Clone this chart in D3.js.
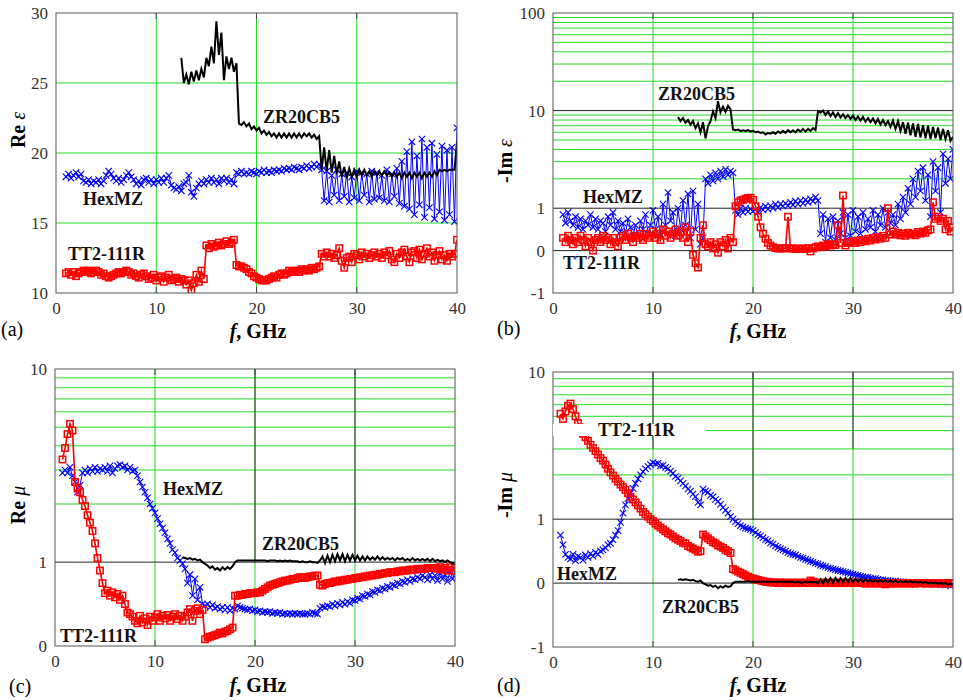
<!DOCTYPE html>
<html>
<head>
<meta charset="utf-8">
<script src="https://cdnjs.cloudflare.com/ajax/libs/d3/7.8.5/d3.min.js"></script>
<style>
    body { margin: 0; background: #fff; }
    svg { display: block; }
</style>
</head>
<body>
<div id="viz"></div>
<script>

// Frequencies are sampled every 0.25 GHz, each series has its own start frequency
const fStep = 0.25;
const xTicks = [0, 10, 20, 30, 40];

// (a) Re eps
const reEpsTT = [
    11.4, 11.5, 11.3, 11.5,
    11.2, 11.4, 11.5, 11.6,
    11.5, 11.6, 11.4, 11.5,
    11.6, 11.5, 11.3, 11.4,
    11.2, 11.1, 11.2, 11.3,
    11.4, 11.5, 11.4, 11.5,
    11.6, 11.5, 11.3, 11.4,
    11.2, 11.1, 11.3, 11.4,
    11.2, 11.0, 11.1, 11.3,
    10.9, 11.1, 11.2, 10.8,
    11.1, 11.3, 10.9, 11.0,
    11.1, 10.8, 11.0, 10.9,
    10.6, 10.9, 10.2, 10.7,
    11.3, 10.8, 11.6, 11.0,
    13.4, 13.2, 13.5, 13.3,
    13.4, 13.6, 13.4, 13.5,
    13.7, 13.5, 13.6, 13.8,
    12.0, 11.9, 11.9, 11.8,
    11.7, 11.5, 11.4, 11.2,
    11.1, 11.0, 10.9, 10.9,
    10.9, 11.0, 11.1, 11.2,
    11.1, 11.3, 11.4, 11.3,
    11.4, 11.6, 11.5, 11.5,
    11.6, 11.5, 11.7, 11.6,
    11.7, 11.6, 11.8, 11.7,
    11.8, 11.9, 12.8, 12.6,
    12.9, 12.6, 12.8, 12.5,
    12.7, 13.2, 12.3, 11.8,
    12.5, 12.6, 12.2, 12.8,
    12.7, 12.4, 12.9, 12.6,
    12.8, 12.5, 12.7, 12.9,
    12.6, 12.8, 12.5, 12.9,
    12.7, 13.0, 12.4, 12.2,
    12.8, 12.5, 12.9, 13.1,
    12.6, 12.2, 12.9, 13.0,
    12.5, 13.1, 12.4, 12.8,
    13.2, 12.6, 12.9, 12.3,
    12.7, 13.0, 12.4, 12.7,
    12.3, 12.8, 12.6, 12.8,
    13.8];
const reEpsHex = [
    18.3, 18.5, 18.2, 18.4,
    18.6, 18.3, 18.5, 18.0,
    17.9, 18.1, 17.8, 18.0,
    17.9, 18.1, 17.8, 18.0,
    18.4, 18.7, 18.5, 18.2,
    18.0, 18.2, 17.9, 18.1,
    18.4, 18.6, 18.3, 18.1,
    17.8, 18.0, 17.7, 18.1,
    18.2, 17.9, 18.1, 17.8,
    18.1, 17.9, 18.2, 17.9,
    18.2, 18.4, 17.7, 17.5,
    17.4, 17.6, 17.3, 17.8,
    17.9, 18.4, 17.2, 16.9,
    17.5, 17.8, 18.0, 17.8,
    18.1, 17.9, 18.2, 17.9,
    18.1, 17.8, 18.2, 18.0,
    18.2, 17.9, 18.1, 17.8,
    18.6, 18.5, 18.7, 18.5,
    18.6, 18.5, 18.7, 18.6,
    18.5, 18.7, 18.6, 18.8,
    18.6, 18.7, 18.6, 18.8,
    18.7, 18.8, 18.7, 18.9,
    18.8, 18.9, 18.8, 19.0,
    18.9, 18.8, 19.0, 18.9,
    19.1, 18.9, 19.0, 19.2,
    19.0, 19.2, 18.8, 16.6,
    18.7, 16.5, 18.4, 17.0,
    18.8, 16.6, 18.5, 16.9,
    18.6, 16.5, 18.3, 16.8,
    18.7, 16.6, 18.6, 17.0,
    18.5, 16.5, 18.7, 16.7,
    18.6, 16.8, 18.4, 16.6,
    18.8, 16.5, 18.5, 16.9,
    18.9, 16.4, 19.4, 16.2,
    20.1, 16.0, 20.8, 15.6,
    19.8, 16.3, 21.0, 15.4,
    20.4, 16.1, 20.7, 15.3,
    19.9, 15.8, 20.5, 15.2,
    20.2, 15.6, 20.4, 15.1,
    21.8];
const reEpsZR = [
    26.8, 25.0,
    25.6, 24.9, 25.8, 25.1,
    25.9, 25.2, 26.0, 25.4,
    26.8, 26.2, 27.6, 26.4,
    29.4, 27.0, 28.6, 25.2,
    26.9, 26.0, 26.8, 25.8,
    26.4, 22.1, 22.0, 22.2,
    21.9, 22.1, 21.7, 21.9,
    21.6, 21.8, 21.4, 21.6,
    21.3, 21.5, 21.2, 21.4,
    21.1, 21.4, 21.1, 21.4,
    21.1, 21.4, 21.1, 21.4,
    21.1, 21.4, 21.1, 21.4,
    21.2, 21.4, 21.1, 21.3,
    21.0, 21.2, 18.8, 20.4,
    18.7, 20.2, 18.6, 19.8,
    18.5, 19.4, 18.3, 19.0,
    18.2, 18.9, 18.3, 18.8,
    18.3, 18.8, 18.4, 18.8,
    18.4, 18.7, 18.3, 18.7,
    18.4, 18.7, 18.4, 18.7,
    18.4, 18.6, 18.3, 18.6,
    18.3, 18.6, 18.2, 18.6,
    18.3, 18.6, 18.2, 18.6,
    18.3, 18.6, 18.2, 18.6,
    18.3, 18.6, 18.3, 18.7,
    18.4, 18.8, 18.7, 18.8,
    18.7, 18.8, 18.8, 18.8,
    20.8];

// (b) -Im eps
const imEpsTT = [
    0.3, 0.2, 0.35, 0.25,
    0.15, 0.3, 0.2, 0.35,
    0.25, 0.1, 0.3, 0.2,
    0.0, 0.25, 0.3, 0.2,
    0.35, 0.25, 0.3, 0.15,
    0.3, 0.2, 0.1, 0.3,
    0.35, 0.25, 0.4, 0.3,
    0.2, 0.35, 0.3, 0.4,
    0.25, 0.4, 0.3, 0.35,
    0.45, 0.3, 0.4, 0.25,
    0.5, 0.35, 0.45, 0.3,
    0.4, 0.5, 0.35, 0.45,
    0.3, 0.55, 0.2, 0.45,
    -0.1, -0.3, -0.4, 0.3,
    0.6, 0.15, 0.1, 0.2,
    0.05, 0.15, -0.05, 0.2,
    0.1, 0.25, 0.05, 0.3,
    0.2, 1.05, 1.15, 1.2,
    1.22, 1.25, 1.27, 1.28,
    1.22, 1.05, 0.8, 0.55,
    0.4, 0.28, 0.18, 0.12,
    0.08, 0.06, 0.05, 0.05,
    0.05, 0.06, 0.8, 0.05,
    0.05, 0.04, 0.05, 0.04,
    0.05, 0.04, 0.06, -0.02,
    0.05, 0.08, 0.1, 0.08,
    0.12, 0.1, 0.15, 0.12,
    0.15, 0.13, 0.6, 0.18,
    1.35, 0.12, 0.18, 0.2,
    0.22, 0.18, 0.24, 0.2,
    0.25, 0.22, 0.28, 0.24,
    0.3, 0.26, 0.32, 0.28,
    0.35, 0.3, 1.0, 0.38,
    0.45, 0.38, 0.42, 0.36,
    0.4, 0.35, 0.42, 0.38,
    0.4, 0.36, 0.44, 0.4,
    0.45, 0.42, 0.48, 0.5,
    1.15, 0.75, 0.8, 0.7,
    0.75, 0.5, 0.7, 0.45,
    0.55];
const imEpsHex = [
    0.85, 0.65, 0.9, 0.7,
    0.6, 0.8, 0.55, 0.75,
    0.5, 0.7, 0.6, 0.85,
    0.55, 0.75, 0.5, 0.7,
    0.65, 0.45, 0.8, 0.6,
    0.9, 0.5, 0.7, 0.45,
    0.65, 0.4, 0.75, 0.55,
    0.35, 0.6, 0.3, 0.7,
    0.5, 0.85, 0.4, 0.6,
    0.95, 0.5, 0.8, 0.35,
    1.1, 0.6, 1.45, 0.7,
    0.9, 0.35, 1.0, 0.5,
    1.2, 0.6, 1.4, 0.3,
    1.5, 0.5, 1.1, 0.15,
    0.3, 2.0, 1.8, 2.2,
    1.9, 2.3, 2.0, 2.4,
    2.1, 2.5, 2.2, 2.4,
    2.3, 0.95, 0.85, 1.0,
    0.9, 1.0, 0.92, 0.98,
    0.93, 0.97, 0.9, 1.02,
    0.96, 1.05, 0.98, 1.06,
    1.0, 1.1, 1.02, 1.1,
    1.05, 1.12, 1.06, 1.15,
    1.08, 1.18, 1.1, 1.2,
    1.12, 1.22, 1.15, 1.25,
    1.18, 1.3, 1.2, 0.4,
    0.85, 0.2, 0.75, 0.3,
    0.8, 0.25, 0.7, 0.4,
    0.9, 0.3, 0.85, 0.35,
    0.95, 0.45, 0.8, 0.4,
    0.9, 0.5, 0.75, 0.55,
    0.95, 0.45, 0.85, 0.6,
    1.0, 0.55, 0.9, 0.65,
    0.85, 0.6, 1.1, 0.75,
    1.3, 0.9, 1.6, 1.1,
    2.0, 1.3, 2.4, 1.5,
    2.6, 1.2, 2.2, 0.8,
    3.0, 1.5, 2.6, 0.9,
    3.6, 1.8, 3.2, 2.0,
    4.0];
const imEpsZR = [
    8.6, 7.8,
    8.4, 7.5, 8.0, 7.2,
    7.8, 6.6, 7.4, 6.0,
    7.6, 5.2, 6.9, 7.8,
    9.8, 8.4, 12.5, 9.6,
    11.0, 9.7, 11.2, 10.3,
    6.4, 6.3, 6.4, 6.2,
    6.3, 6.2, 6.3, 6.1,
    6.2, 6.0, 6.1, 5.9,
    6.0, 5.7, 5.9, 5.8,
    6.0, 5.8, 6.1, 5.9,
    6.2, 5.9, 6.3, 6.0,
    6.3, 6.0, 6.4, 6.1,
    6.5, 6.1, 6.5, 6.2,
    6.6, 6.3, 9.9, 9.5,
    10.0, 9.0, 9.8, 8.8,
    9.6, 8.6, 9.4, 8.5,
    9.2, 8.4, 9.0, 8.2,
    8.9, 8.0, 8.7, 7.9,
    8.6, 7.7, 8.4, 7.6,
    8.3, 7.4, 8.2, 7.2,
    8.0, 7.1, 7.8, 6.8,
    7.9, 6.5, 7.8, 6.2,
    7.6, 5.8, 7.5, 5.6,
    7.4, 5.4, 7.3, 5.3,
    7.1, 5.2, 7.0, 5.1,
    6.8, 5.2, 6.7, 5.0,
    6.5, 5.1, 6.3, 4.9,
    5.4];

// (c) Re mu
const reMuTT = [
    3.4,
    3.9, 4.6, 5.2, 4.8,
    2.6, 2.4, 2.3, 2.1,
    1.95, 1.75, 1.6, 1.45,
    1.25, 1.05, 0.9, 0.75,
    0.63, 0.66, 0.6, 0.64,
    0.58, 0.62, 0.55, 0.6,
    0.5, 0.4, 0.38, 0.35,
    0.3, 0.27, 0.36, 0.28,
    0.33, 0.25, 0.35, 0.3,
    0.34, 0.38, 0.3, 0.36,
    0.33, 0.37, 0.3, 0.35,
    0.38, 0.32, 0.36, 0.3,
    0.35, 0.4, 0.44, 0.3,
    0.42, 0.45, 0.38, 0.43,
    0.08, 0.1, 0.11, 0.12,
    0.13, 0.14, 0.16, 0.15,
    0.17, 0.18, 0.2, 0.22,
    0.6, 0.6, 0.61, 0.61,
    0.62, 0.62, 0.63, 0.63,
    0.63, 0.64, 0.64, 0.66,
    0.68, 0.7, 0.72, 0.73,
    0.74, 0.75, 0.76, 0.77,
    0.78, 0.78, 0.79, 0.8,
    0.8, 0.81, 0.82, 0.82,
    0.81, 0.82, 0.83, 0.83,
    0.84, 0.84, 0.73, 0.72,
    0.74, 0.75, 0.75, 0.76,
    0.77, 0.77, 0.78, 0.78,
    0.79, 0.79, 0.8, 0.8,
    0.81, 0.81, 0.82, 0.82,
    0.83, 0.83, 0.84, 0.84,
    0.85, 0.85, 0.86, 0.86,
    0.87, 0.87, 0.88, 0.88,
    0.88, 0.89, 0.89, 0.9,
    0.9, 0.9, 0.91, 0.91,
    0.91, 0.92, 0.92, 0.92,
    0.92, 0.93, 0.93, 0.93,
    0.93, 0.92, 0.94, 0.91,
    0.93, 0.9, 0.94, 0.9,
    0.93];
const reMuHex = [
    2.9,
    3.0, 2.9, 3.1, 2.8,
    2.6, 2.3, 2.5, 2.9,
    3.0, 2.9, 3.05, 2.95,
    3.1, 2.95, 3.05, 3.0,
    3.1, 2.95, 3.15, 2.9,
    3.05, 3.15, 3.2, 3.1,
    3.15, 3.0, 3.1, 2.95,
    3.0, 2.8, 2.6, 2.45,
    2.3, 2.15, 2.0, 1.9,
    1.8, 1.68, 1.58, 1.5,
    1.42, 1.32, 1.25, 1.16,
    1.12, 1.05, 1.02, 0.98,
    0.92, 0.75, 0.85, 0.6,
    0.8, 0.55, 0.7, 0.5,
    0.48, 0.5, 0.46, 0.49,
    0.45, 0.47, 0.44, 0.46,
    0.43, 0.46, 0.42, 0.45,
    0.44, 0.48, 0.46, 0.45,
    0.44, 0.43, 0.44, 0.42,
    0.43, 0.41, 0.42, 0.4,
    0.41, 0.4, 0.41, 0.39,
    0.4, 0.39, 0.4, 0.38,
    0.39, 0.38, 0.39, 0.38,
    0.39, 0.38, 0.39, 0.38,
    0.38, 0.39, 0.38, 0.4,
    0.39, 0.38, 0.45, 0.47,
    0.46, 0.48, 0.47, 0.5,
    0.48, 0.51, 0.49, 0.52,
    0.5, 0.53, 0.51, 0.55,
    0.54, 0.57, 0.56, 0.6,
    0.59, 0.62, 0.61, 0.65,
    0.64, 0.67, 0.66, 0.69,
    0.68, 0.71, 0.7, 0.73,
    0.72, 0.75, 0.74, 0.77,
    0.76, 0.79, 0.77, 0.8,
    0.79, 0.82, 0.8, 0.84,
    0.82, 0.79, 0.85, 0.8,
    0.84, 0.78, 0.87, 0.8,
    0.85, 0.77, 0.9, 0.8,
    0.88];
const reMuZR = [
    1.06,
    1.05, 1.04, 1.05, 1.03,
    1.04, 1.02, 1.03, 1.0,
    0.98, 0.96, 0.93, 0.95,
    0.91, 0.93, 0.9, 0.94,
    0.91, 0.94, 0.92, 0.95,
    1.0, 1.02, 1.02, 1.02,
    1.02, 1.02, 1.02, 1.02,
    1.02, 1.02, 1.02, 1.02,
    1.02, 1.01, 1.02, 1.02,
    1.02, 1.01, 1.02, 1.01,
    1.02, 1.01, 1.02, 1.01,
    1.01, 1.01, 1.0, 1.01,
    1.0, 1.0, 1.01, 1.0,
    1.0, 0.99, 1.02, 1.07,
    0.99, 1.08, 1.0, 1.09,
    1.01, 1.1, 1.02, 1.1,
    1.01, 1.09, 1.02, 1.09,
    1.02, 1.08, 1.02, 1.07,
    1.02, 1.07, 1.03, 1.06,
    1.03, 1.07, 1.03, 1.06,
    1.03, 1.05, 1.03, 1.05,
    1.02, 1.05, 1.03, 1.05,
    1.02, 1.04, 1.02, 1.05,
    1.02, 1.04, 1.02, 1.04,
    1.02, 1.04, 1.01, 1.04,
    1.01, 1.03, 1.01, 1.02,
    1.0, 1.02, 1.0, 0.99,
    0.98];

// (d) -Im mu
const imMuTT = [
    5.2,
    4.8, 5.4, 5.9, 6.1,
    5.6, 5.0, 4.5, 4.2,
    3.8, 3.6, 3.4, 3.2,
    3.05, 2.9, 2.75, 2.6,
    2.5, 2.35, 2.2, 2.08,
    1.98, 1.88, 1.8, 1.72,
    1.65, 1.58, 1.5, 1.42,
    1.36, 1.3, 1.24, 1.18,
    1.12, 1.08, 1.04, 1.0,
    0.97, 0.93, 0.9, 0.87,
    0.84, 0.81, 0.78, 0.76,
    0.73, 0.7, 0.68, 0.66,
    0.63, 0.62, 0.58, 0.56,
    0.54, 0.52, 0.49, 0.5,
    0.76, 0.73, 0.7, 0.67,
    0.64, 0.62, 0.59, 0.57,
    0.55, 0.52, 0.5, 0.47,
    0.22, 0.2, 0.18, 0.16,
    0.14, 0.12, 0.1, 0.08,
    0.07, 0.06, 0.05, 0.04,
    0.03, 0.02, 0.02, 0.01,
    0.01, 0.01, 0.0, 0.01,
    0.0, 0.01, 0.0, 0.0,
    0.01, 0.0, 0.0, 0.01,
    0.0, 0.01, 0.0, 0.04,
    0.02, 0.0, 0.01, 0.0,
    0.0, 0.01, 0.0, 0.0,
    0.01, 0.0, 0.0, 0.01,
    0.0, 0.0, 0.01, 0.0,
    0.0, 0.01, 0.0, 0.0,
    0.0, -0.01, 0.0, 0.0,
    -0.01, 0.0, 0.0, -0.01,
    0.0, -0.02, 0.0, -0.01,
    0.0, -0.01, 0.0, 0.0,
    -0.01, 0.0, 0.0, -0.01,
    0.0, -0.01, 0.0, 0.0,
    0.0, -0.01, 0.0, 0.0,
    -0.01, 0.0, 0.0, -0.01,
    0.0, -0.01, 0.0, 0.0,
    -0.01];
const imMuHex = [
    0.75,
    0.6, 0.45, 0.4, 0.38,
    0.45, 0.35, 0.42, 0.4,
    0.36, 0.44, 0.4, 0.46,
    0.42, 0.48, 0.45, 0.5,
    0.52, 0.55, 0.6, 0.62,
    0.68, 0.75, 0.82, 0.95,
    1.1, 1.25, 1.38, 1.5,
    1.62, 1.75, 1.88, 2.0,
    2.1, 2.2, 2.28, 2.35,
    2.42, 2.38, 2.4, 2.3,
    2.32, 2.25, 2.2, 2.12,
    2.05, 1.95, 1.9, 1.82,
    1.75, 1.68, 1.6, 1.55,
    1.48, 1.42, 1.3, 1.25,
    1.6, 1.55, 1.52, 1.45,
    1.42, 1.36, 1.32, 1.26,
    1.2, 1.15, 1.1, 1.04,
    1.0, 0.96, 0.93, 0.9,
    0.88, 0.86, 0.85, 0.84,
    0.82, 0.79, 0.76, 0.74,
    0.71, 0.68, 0.66, 0.63,
    0.61, 0.58, 0.56, 0.54,
    0.52, 0.5, 0.48, 0.46,
    0.45, 0.44, 0.42, 0.4,
    0.39, 0.37, 0.36, 0.34,
    0.33, 0.31, 0.3, 0.28,
    0.27, 0.26, 0.24, 0.23,
    0.22, 0.21, 0.2, 0.19,
    0.18, 0.17, 0.16, 0.15,
    0.14, 0.13, 0.12, 0.11,
    0.1, 0.09, 0.09, 0.08,
    0.07, 0.07, 0.06, 0.05,
    0.05, 0.04, 0.04, 0.03,
    0.03, 0.03, 0.02, 0.02,
    0.02, 0.01, 0.01, 0.01,
    0.01, 0.0, 0.01, 0.0,
    0.0, -0.01, 0.0, -0.01,
    -0.01, -0.02, -0.01, -0.02,
    -0.02, -0.03, -0.02, -0.04,
    -0.03];
const imMuZR = [
    0.05, 0.06,
    0.05, 0.06, 0.05, 0.04,
    0.05, 0.03, 0.02, 0.04,
    0.0, -0.02, -0.04, -0.03,
    -0.06, -0.04, -0.08, -0.05,
    -0.07, -0.04, -0.06, -0.05,
    0.0, 0.02, 0.02, 0.02,
    0.02, 0.02, 0.03, 0.02,
    0.02, 0.02, 0.02, 0.02,
    0.02, 0.02, 0.02, 0.02,
    0.02, 0.02, 0.02, 0.02,
    0.02, 0.02, 0.02, 0.02,
    0.02, 0.01, 0.02, 0.01,
    0.01, 0.02, 0.01, 0.02,
    0.01, 0.02, 0.0, 0.06,
    0.0, 0.07, 0.01, 0.08,
    0.01, 0.08, 0.02, 0.08,
    0.02, 0.08, 0.02, 0.08,
    0.02, 0.07, 0.02, 0.06,
    0.02, 0.06, 0.02, 0.05,
    0.02, 0.05, 0.02, 0.05,
    0.02, 0.04, 0.02, 0.04,
    0.01, 0.04, 0.01, 0.03,
    0.01, 0.03, 0.01, 0.03,
    0.01, 0.02, 0.01, 0.02,
    0.0, 0.02, 0.0, 0.01,
    0.0, 0.01, -0.01, 0.0,
    -0.01, 0.0, -0.02, -0.01,
    -0.02];

// grid values of the log part
const minorLow = [2, 3, 4, 5, 6, 7, 8, 9];
const minorHigh = [20, 30, 40, 50, 60, 70, 80, 90];

const serif = '"Liberation Serif", "Times New Roman", serif';
const green = '#22dd22';

// linear below 1, 1 + ln(v) above
function symT(v) {
    return v < 1 ? v : 1 + Math.log(v);
}
function ident(v) {
    return v;
}

const panels = [
    {
        letter: '(a)', left: 56, top: 13, width: 401, height: 280, tf: ident,
        yDomain: [10, 30], yTicks: [10, 15, 20, 25, 30],
        greenY: [15, 20, 25], blackY: [], blackV: [],
        title: ['Re ', 'ε'], titlePos: [25, 130], letterPos: [1, 336], fPos: [258, 338],
        series: [
            {kind: 'hex', f0: 1, values: reEpsHex},
            {kind: 'tt', f0: 1, values: reEpsTT},
            {kind: 'zr', f0: 12.5, values: reEpsZR}
        ],
        labels: [
            {text: 'ZR20CB5', x: 263, y: 123},
            {text: 'HexMZ', x: 83, y: 205},
            {text: 'TT2-111R', x: 68, y: 260}
        ]
    },
    {
        letter: '(b)', left: 553, top: 13, width: 400, height: 280, tf: symT,
        yDomain: [-1, 100], yTicks: [-1, 0, 1, 10, 100],
        greenY: minorLow.concat(minorHigh), blackY: [0, 1, 10], blackV: [],
        title: ['-Im ', 'ε'], titlePos: [512, 161], letterPos: [497, 335], fPos: [758, 338],
        series: [
            {kind: 'hex', f0: 1, values: imEpsHex},
            {kind: 'tt', f0: 1, values: imEpsTT},
            {kind: 'zr', f0: 12.5, values: imEpsZR}
        ],
        labels: [
            {text: 'ZR20CB5', x: 658, y: 100},
            {text: 'HexMZ', x: 583, y: 203},
            {text: 'TT2-111R', x: 563, y: 269}
        ]
    },
    {
        letter: '(c)', left: 55, top: 369, width: 400, height: 277, tf: symT,
        yDomain: [0, 10], yTicks: [0, 1, 10],
        greenY: minorLow, blackY: [1], blackV: [[20, 1], [30, 1]],
        title: ['Re ', 'μ'], titlePos: [25, 505], letterPos: [9, 693], fPos: [258, 692],
        series: [
            {kind: 'hex', f0: 0.75, values: reMuHex},
            {kind: 'tt', f0: 0.75, values: reMuTT},
            {kind: 'zr', f0: 12.75, values: reMuZR}
        ],
        labels: [
            {text: 'HexMZ', x: 163, y: 495},
            {text: 'ZR20CB5', x: 262, y: 550},
            {text: 'TT2-111R', x: 60, y: 642}
        ]
    },
    {
        letter: '(d)', left: 553, top: 372, width: 400, height: 275, tf: symT,
        yDomain: [-1, 10], yTicks: [-1, 0, 1, 10],
        greenY: minorLow, blackY: [0, 1], blackV: [[10, 3], [20, 1], [30, 3]],
        title: ['-Im ', 'μ'], titlePos: [512, 495], letterPos: [497, 692], fPos: [758, 692],
        series: [
            {kind: 'hex', f0: 0.75, values: imMuHex},
            {kind: 'tt', f0: 0.75, values: imMuTT},
            {kind: 'zr', f0: 12.5, values: imMuZR}
        ],
        labels: [
            {text: 'TT2-111R', x: 598, y: 436, bg: [553, 424, 153, 12]},
            {text: 'HexMZ', x: 557, y: 580},
            {text: 'ZR20CB5', x: 662, y: 613}
        ]
    }
];

const svg = d3.select('#viz').append('svg')
    .attr('width', 963)
    .attr('height', 700)
    .style('font-family', serif);

svg.append('rect').attr('width', 963).attr('height', 700).attr('fill', '#fff');

panels.forEach(function(p, i) {
    drawPanel(p, i);
});

function drawPanel(p, idx) {

    const g = svg.append('g').attr('transform', 'translate(' + p.left + ',' + p.top + ')');

    const x = d3.scaleLinear().domain([0, 40]).range([0, p.width]);
    const y = d3.scaleLinear().domain(p.yDomain.map(p.tf)).range([p.height, 0]);
    const yv = v => y(p.tf(v));

    g.append('clipPath').attr('id', 'clip' + idx)
        .append('rect').attr('width', p.width).attr('height', p.height);

    // green grid
    g.selectAll('.gx').data([10, 20, 30]).join('line')
        .attr('x1', d => x(d)).attr('x2', d => x(d))
        .attr('y1', 0).attr('y2', p.height)
        .attr('stroke', green).attr('stroke-width', 1);
    g.selectAll('.gy').data(p.greenY).join('line')
        .attr('x1', 0).attr('x2', p.width)
        .attr('y1', d => yv(d)).attr('y2', d => yv(d))
        .attr('stroke', green).attr('stroke-width', 1);

    // black decade lines
    g.selectAll('.by').data(p.blackY).join('line')
        .attr('x1', 0).attr('x2', p.width)
        .attr('y1', d => yv(d)).attr('y2', d => yv(d))
        .attr('stroke', '#222').attr('stroke-width', 1);
    g.selectAll('.bv').data(p.blackV).join('line')
        .attr('x1', d => x(d[0])).attr('x2', d => x(d[0]))
        .attr('y1', 0).attr('y2', d => yv(d[1]))
        .attr('stroke', '#333').attr('stroke-width', 1);

    // tick marks on top and bottom
    [10, 20, 30].forEach(function(t) {
        g.append('line').attr('x1', x(t)).attr('x2', x(t)).attr('y1', 0).attr('y2', 6)
            .attr('stroke', '#444');
        g.append('line').attr('x1', x(t)).attr('x2', x(t)).attr('y1', p.height - 6).attr('y2', p.height)
            .attr('stroke', '#444');
    });

    // label backgrounds
    p.labels.filter(l => l.bg).forEach(function(l) {
        svg.append('rect').attr('x', l.bg[0]).attr('y', l.bg[1])
            .attr('width', l.bg[2]).attr('height', l.bg[3]).attr('fill', '#fff');
    });

    const plot = g.append('g').attr('clip-path', 'url(#clip' + idx + ')');

    const line = d3.line()
        .x(d => x(d[0]))
        .y(d => yv(d[1]));

    p.series.forEach(function(s) {
        const pts = s.values.map((v, i) => [s.f0 + i * fStep, v]);
        if (s.kind == 'tt') {
            plot.append('path').datum(pts).attr('d', line)
                .attr('fill', 'none').attr('stroke', '#ff0000').attr('stroke-width', 1.6);
            plot.selectAll('.sq').data(pts).join('rect')
                .attr('x', d => x(d[0]) - 3.2).attr('y', d => yv(d[1]) - 3.2)
                .attr('width', 6.4).attr('height', 6.4)
                .attr('fill', 'none').attr('stroke', '#ff0000').attr('stroke-width', 1.5);
        } else if (s.kind == 'hex') {
            plot.append('path').datum(pts).attr('d', line)
                .attr('fill', 'none').attr('stroke', '#0000ff').attr('stroke-width', 1);
            plot.selectAll('.xm').data(pts).join('path')
                .attr('transform', d => 'translate(' + x(d[0]) + ',' + yv(d[1]) + ')')
                .attr('d', 'M-3.2,-3.2L3.2,3.2M-3.2,3.2L3.2,-3.2')
                .attr('fill', 'none').attr('stroke', '#0000ff').attr('stroke-width', 1.1);
        } else {
            plot.append('path').datum(pts).attr('d', line)
                .attr('fill', 'none').attr('stroke', '#000').attr('stroke-width', 2);
        }
    });

    // frame
    g.append('rect').attr('width', p.width).attr('height', p.height)
        .attr('fill', 'none').attr('stroke', '#555').attr('stroke-width', 1);

    // axes
    const xAxis = g.append('g')
        .attr('transform', 'translate(0,' + p.height + ')')
        .call(d3.axisBottom(x).tickValues(xTicks).tickSize(0).tickPadding(9));
    const yAxis = g.append('g')
        .call(d3.axisLeft(y).tickValues(p.yTicks.map(p.tf))
            .tickFormat((d, i) => String(p.yTicks[i])).tickSize(0).tickPadding(8));
    [xAxis, yAxis].forEach(function(a) {
        a.select('.domain').remove();
        a.attr('font-family', serif).attr('font-size', 17);
        a.selectAll('text').attr('fill', '#333');
    });

    // series names
    p.labels.forEach(function(l) {
        svg.append('text')
            .attr('x', l.x).attr('y', l.y)
            .attr('font-size', 18).attr('font-weight', 'bold')
            .attr('fill', '#111')
            .text(l.text);
    });

    // y title
    const yt = svg.append('text')
        .attr('transform', 'translate(' + p.titlePos[0] + ',' + p.titlePos[1] + ') rotate(-90)')
        .attr('text-anchor', 'middle')
        .attr('font-size', 20).attr('font-weight', 'bold');
    yt.append('tspan').text(p.title[0]);
    yt.append('tspan').attr('font-style', 'italic').attr('font-weight', 'normal').text(p.title[1]);

    // x title
    const xt = svg.append('text')
        .attr('x', p.fPos[0]).attr('y', p.fPos[1])
        .attr('text-anchor', 'middle')
        .attr('font-size', 20).attr('font-weight', 'bold');
    xt.append('tspan').attr('font-style', 'italic').text('f');
    xt.append('tspan').text(', GHz');

    svg.append('text')
        .attr('x', p.letterPos[0]).attr('y', p.letterPos[1])
        .attr('font-size', 20)
        .text(p.letter);
}

</script>
</body>
</html>
